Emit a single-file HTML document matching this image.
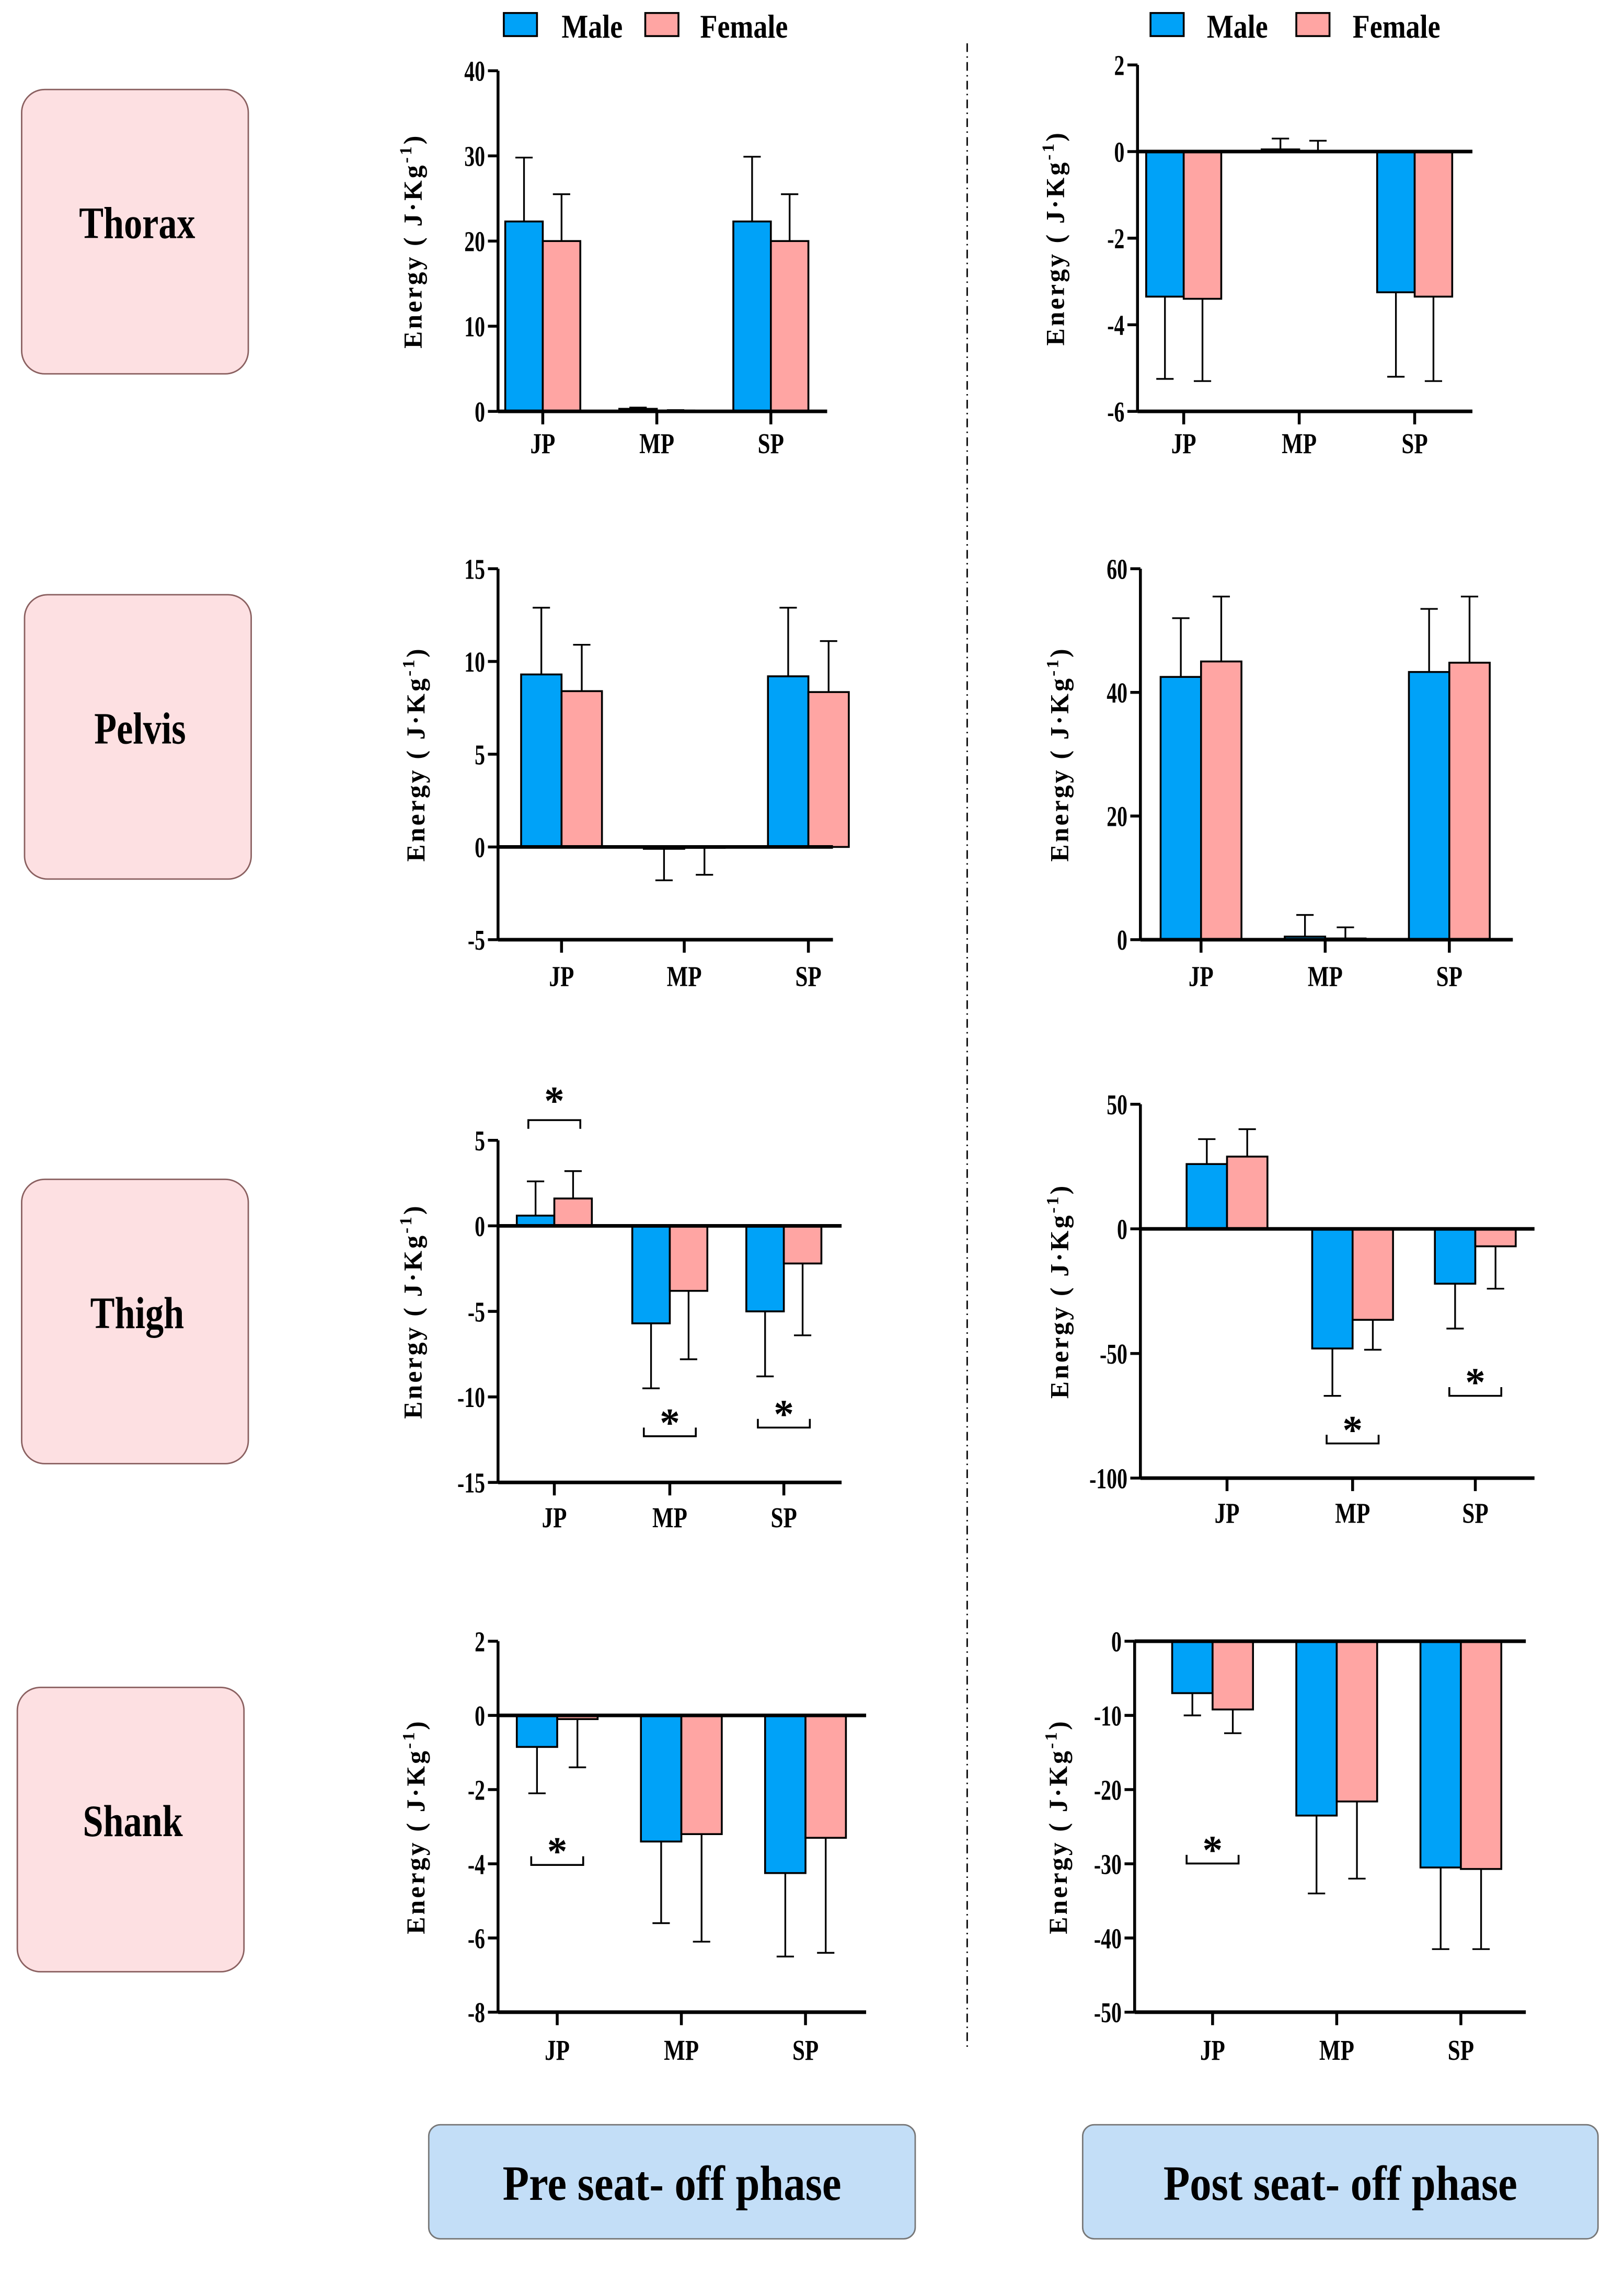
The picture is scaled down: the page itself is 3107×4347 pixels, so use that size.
<!DOCTYPE html>
<html><head><meta charset="utf-8"><style>
html,body{margin:0;padding:0;background:#fff;}
svg{display:block;font-family:"Liberation Serif",serif;font-weight:bold;}
</style></head><body>
<svg id="fig" xmlns="http://www.w3.org/2000/svg" width="3107" height="4347" viewBox="0 0 1125 1574">
<rect x="0" y="0" width="1125" height="1574" fill="#fff"/>
<line x1="670" y1="30" x2="670" y2="1420" stroke="#000" stroke-width="1" stroke-dasharray="6,3,1,3"/>
<g id="boxes"></g>
<g id="charts"></g>
</svg>
<script>
const categories = ["JP","MP","SP"];
// Thorax pre
const thoraxPreMale = [22.3, 0.3, 22.3];
const thoraxPreMaleErr = [29.8, 0.45, 29.9];
const thoraxPreFemale = [20.0, 0.1, 20.0];
const thoraxPreFemaleErr = [25.5, 0.15, 25.5];
const thoraxPreTicks = [0,10,20,30,40];
// Thorax post
const thoraxPostMale = [-3.35, 0.05, -3.25];
const thoraxPostMaleErr = [-5.25, 0.3, -5.2];
const thoraxPostFemale = [-3.4, 0.02, -3.35];
const thoraxPostFemaleErr = [-5.3, 0.25, -5.3];
const thoraxPostTicks = [-6,-4,-2,0,2];
// Pelvis pre
const pelvisPreMale = [9.3, -0.1, 9.2];
const pelvisPreMaleErr = [12.9, -1.8, 12.9];
const pelvisPreFemale = [8.4, -0.05, 8.35];
const pelvisPreFemaleErr = [10.9, -1.5, 11.1];
const pelvisPreTicks = [-5,0,5,10,15];
// Pelvis post
const pelvisPostMale = [42.5, 0.5, 43.3];
const pelvisPostMaleErr = [52, 4, 53.5];
const pelvisPostFemale = [45, 0.2, 44.8];
const pelvisPostFemaleErr = [55.5, 2, 55.5];
const pelvisPostTicks = [0,20,40,60];
// Thigh pre
const thighPreMale = [0.6, -5.7, -5.0];
const thighPreMaleErr = [2.6, -9.5, -8.8];
const thighPreFemale = [1.6, -3.8, -2.2];
const thighPreFemaleErr = [3.2, -7.8, -6.4];
const thighPreTicks = [-15,-10,-5,0,5];
// Thigh post
const thighPostMale = [26, -48, -22];
const thighPostMaleErr = [36, -67, -40];
const thighPostFemale = [29, -36.5, -7];
const thighPostFemaleErr = [40, -48.5, -24];
const thighPostTicks = [-100,-50,0,50];
// Shank pre
const shankPreMale = [-0.85, -3.4, -4.25];
const shankPreMaleErr = [-2.1, -5.6, -6.5];
const shankPreFemale = [-0.1, -3.2, -3.3];
const shankPreFemaleErr = [-1.4, -6.1, -6.4];
const shankPreTicks = [-8,-6,-4,-2,0,2];
// Shank post
const shankPostMale = [-7, -23.5, -30.5];
const shankPostMaleErr = [-10, -34, -41.5];
const shankPostFemale = [-9.2, -21.6, -30.7];
const shankPostFemaleErr = [-12.4, -32, -41.5];
const shankPostTicks = [-50,-40,-30,-20,-10,0];

const NS = "http://www.w3.org/2000/svg";
const MALE = "#00a2f8", FEMALE = "#ffa5a3";
function mk(tag, attrs, parent){const e=document.createElementNS(NS,tag);for(const k in attrs)e.setAttribute(k,attrs[k]);parent.appendChild(e);return e;}
function txt(x,y,s,size,parent,anchor,sx){const t=mk("text",{transform:`translate(${x},${y}) scale(${sx||0.8},1)`,"font-size":size,"text-anchor":anchor||"middle"},parent);t.textContent=s;return t;}

const charts=document.getElementById("charts");
const panels=[
 {id:"thorax-pre",x0:345,x1:573,yTop:49,yBot:285,min:0,max:40,cx:[376,455,534],bw:26,m:thoraxPreMale,me:thoraxPreMaleErr,f:thoraxPreFemale,fe:thoraxPreFemaleErr,ticks:thoraxPreTicks,lab:307,tx:290,sig:[]},
 {id:"thorax-post",x0:788,x1:1020,yTop:45,yBot:285,min:-6,max:2,cx:[820,900,980],bw:26,m:thoraxPostMale,me:thoraxPostMaleErr,f:thoraxPostFemale,fe:thoraxPostFemaleErr,ticks:thoraxPostTicks,lab:307,tx:735,sig:[]},
 {id:"pelvis-pre",x0:345,x1:577,yTop:394,yBot:651,min:-5,max:15,cx:[389,474,560],bw:28,m:pelvisPreMale,me:pelvisPreMaleErr,f:pelvisPreFemale,fe:pelvisPreFemaleErr,ticks:pelvisPreTicks,lab:676,tx:292,sig:[]},
 {id:"pelvis-post",x0:790,x1:1048,yTop:394,yBot:651,min:0,max:60,cx:[832,918,1004],bw:28,m:pelvisPostMale,me:pelvisPostMaleErr,f:pelvisPostFemale,fe:pelvisPostFemaleErr,ticks:pelvisPostTicks,lab:676,tx:738,sig:[]},
 {id:"thigh-pre",x0:345,x1:583,yTop:790,yBot:1027,min:-15,max:5,cx:[384,464,543],bw:26,m:thighPreMale,me:thighPreMaleErr,f:thighPreFemale,fe:thighPreFemaleErr,ticks:thighPreTicks,lab:1051,tx:290,sig:[[0,776,-1],[1,995,1],[2,989,1]]},
 {id:"thigh-post",x0:790,x1:1063,yTop:765,yBot:1024,min:-100,max:50,cx:[850,937,1022],bw:28,m:thighPostMale,me:thighPostMaleErr,f:thighPostFemale,fe:thighPostFemaleErr,ticks:thighPostTicks,lab:1048,tx:738,sig:[[1,1000,1],[2,967,1]]},
 {id:"shank-pre",x0:345,x1:600,yTop:1137,yBot:1394,min:-8,max:2,cx:[386,472,558],bw:28,m:shankPreMale,me:shankPreMaleErr,f:shankPreFemale,fe:shankPreFemaleErr,ticks:shankPreTicks,lab:1420,tx:292,sig:[[0,1292,1]]},
 {id:"shank-post",x0:786,x1:1057,yTop:1137,yBot:1394,min:-50,max:0,cx:[840,926,1012],bw:28,m:shankPostMale,me:shankPostMaleErr,f:shankPostFemale,fe:shankPostFemaleErr,ticks:shankPostTicks,lab:1420,tx:737,sig:[[0,1291,1]]}
];
panels.forEach(p=>{
 const g=mk("g",{},charts);
 
 
 const y=v=>p.yBot-(v-p.min)/(p.max-p.min)*(p.yBot-p.yTop);
 const drawBar=(cx,v,e,color,nm)=>{
  const top=Math.min(y(v),y(0)),h=Math.abs(y(v)-y(0));
  const r=mk("rect",{x:cx,y:top,width:p.bw,height:Math.max(h,0.5),fill:color,stroke:"#000","stroke-width":1.3},g);
  
  
  const mx=cx+p.bw/2;
  const el=mk("path",{d:`M${mx},${y(v)}V${y(e)}M${mx-6},${y(e)}H${mx+6}`,stroke:"#000","stroke-width":1.2,fill:"none"},g);
  
  
 };
 categories.forEach((c,i)=>{
  drawBar(p.cx[i]-p.bw,p.m[i],p.me[i],MALE,`${p.id}-male-${c.toLowerCase()}`);
  drawBar(p.cx[i],p.f[i],p.fe[i],FEMALE,`${p.id}-female-${c.toLowerCase()}`);
 });
 const ax=mk("line",{x1:p.x0,y1:p.yTop,x2:p.x0,y2:p.yBot,stroke:"#000","stroke-width":2},g);
 
 
 const zl=mk("line",{x1:p.x0,y1:y(0),x2:p.x1,y2:y(0),stroke:"#000","stroke-width":2.5},g);
 
 
 if(p.min<0){
  const bl=mk("line",{x1:p.x0,y1:p.yBot,x2:p.x1,y2:p.yBot,stroke:"#000","stroke-width":2.5},g);
  
  
 }
 p.ticks.forEach(t=>{
  mk("line",{x1:p.x0-7,y1:y(t),x2:p.x0,y2:y(t),stroke:"#000","stroke-width":2},g);
  const tl=txt(p.x0-9,y(t)+7,String(t),20,g,"end",0.72);
  
  
 });
 categories.forEach((c,i)=>{
  mk("line",{x1:p.cx[i],y1:p.yBot,x2:p.cx[i],y2:p.yBot+9,stroke:"#000","stroke-width":2},g);
  const cl=txt(p.cx[i],p.lab+7,c,20,g,"middle",0.78);
  
  
 });
 const yt=mk("text",{transform:`translate(${p.tx+2},${(p.yTop+p.yBot)/2}) rotate(-90)`,"font-size":18,"text-anchor":"middle","letter-spacing":"1.5"},g);
 yt.innerHTML='Energy ( J·Kg<tspan font-size="12" dy="-7">-1</tspan><tspan dy="7">)</tspan>';
 
 
 p.sig.forEach(s=>{
  const cx=p.cx[s[0]],by=s[1],d=s[2];
  const b=mk("path",{d:`M${cx-18},${by-6*d}V${by}H${cx+18}V${by-6*d}`,stroke:"#000","stroke-width":1.3,fill:"none"},g);
  
  
  const st=mk("text",{x:cx,y:by+(d>0?0:-4),"font-size":28,"text-anchor":"middle"},g);
  st.textContent="*";
  
  
 });
});
[[349,389,447,485],[797,836,898,937]].forEach((L,i)=>{
 const g=mk("g",{},charts);
 
 
 mk("rect",{x:L[0],y:9,width:23,height:16,fill:MALE,stroke:"#000","stroke-width":1.3},g);
 txt(L[1],26,"Male",23,g,"start",0.85);
 mk("rect",{x:L[2],y:9,width:23,height:16,fill:FEMALE,stroke:"#000","stroke-width":1.3},g);
 txt(L[3],26,"Female",23,g,"start",0.85);
});
const boxes=document.getElementById("boxes");
[["Thorax",15,62],["Pelvis",17,412],["Thigh",15,817],["Shank",12,1169]].forEach(b=>{
 const r=mk("rect",{x:b[1],y:b[2],width:157,height:197,rx:16,fill:"#fde0e2",stroke:"#8a6060","stroke-width":1},boxes);
 
 
 const t=txt(b[1]+80,b[2]+103,b[0],31,boxes,"middle",0.82);
 
 
});
[["Pre seat- off phase",297,337],["Post seat- off phase",750,357]].forEach((b,i)=>{
 const r=mk("rect",{x:b[1],y:1472,width:b[2],height:79,rx:8,fill:"#c3def7",stroke:"#777","stroke-width":1},boxes);
 
 
 const t=txt(b[1]+b[2]/2,1524,b[0],34,boxes,"middle",0.88);
 
 
});
</script>
</body></html>
